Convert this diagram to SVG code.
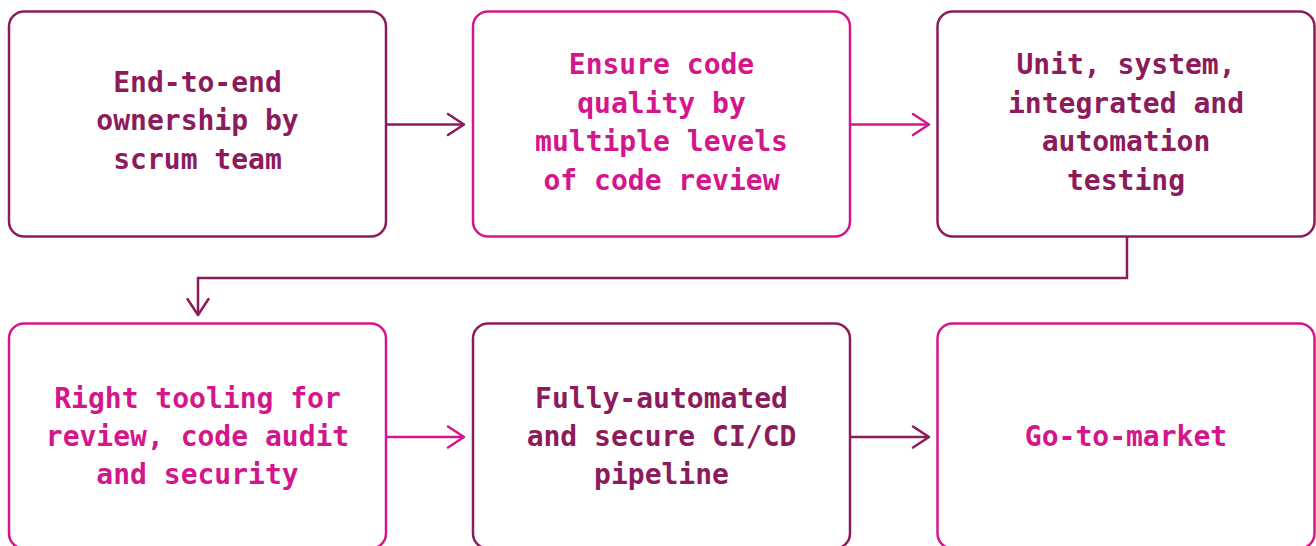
<svg xmlns="http://www.w3.org/2000/svg" width="1316" height="546" viewBox="0 0 1316 546">
  <defs>
    <style>
      .box { fill: #ffffff; stroke-width: 2.5; }
      .dark { stroke: #8c1b5c; }
      .bright { stroke: #d4168c; }
      text { font-family: "DejaVu Sans Mono", "Liberation Mono", monospace; font-weight: bold; font-size: 28px; text-anchor: middle; }
      .tdark { fill: #8c1b5c; }
      .tbright { fill: #d4168c; }
      .link { fill: none; stroke-width: 2.5; }
    </style>
    <marker id="head-dark" markerUnits="userSpaceOnUse" markerWidth="22" markerHeight="26" refX="18" refY="12" orient="auto" overflow="visible">
      <path d="M2 1.5 L18 12 L2 22.5" fill="none" stroke="#8c1b5c" stroke-width="2.5" stroke-linecap="round" stroke-linejoin="round"/>
    </marker>
    <marker id="head-bright" markerUnits="userSpaceOnUse" markerWidth="22" markerHeight="26" refX="18" refY="12" orient="auto" overflow="visible">
      <path d="M2 1.5 L18 12 L2 22.5" fill="none" stroke="#d4168c" stroke-width="2.5" stroke-linecap="round" stroke-linejoin="round"/>
    </marker>
  </defs>

  <!-- connectors -->
  <g id="connectors">
    <path class="link dark" d="M387 124.5 H464" marker-end="url(#head-dark)"/>
    <path class="link bright" d="M851 124.5 H929" marker-end="url(#head-bright)"/>
    <path class="link dark" d="M1127 237 V278 H198 V315" marker-end="url(#head-dark)"/>
    <path class="link bright" d="M387 437 H464" marker-end="url(#head-bright)"/>
    <path class="link dark" d="M851 437 H929" marker-end="url(#head-dark)"/>
  </g>

  <!-- top row -->
  <g id="node-ownership">
    <rect class="box dark" x="9" y="11.5" width="377" height="225" rx="15"/>
    <text class="tdark" x="197.5" y="91.5">End-to-end</text>
    <text class="tdark" x="197.5" y="130">ownership by</text>
    <text class="tdark" x="197.5" y="168.5">scrum team</text>
  </g>

  <g id="node-code-quality">
    <rect class="box bright" x="473" y="11.5" width="377" height="225" rx="15"/>
    <text class="tbright" x="661.5" y="74">Ensure code</text>
    <text class="tbright" x="661.5" y="112.5">quality by</text>
    <text class="tbright" x="661.5" y="151">multiple levels</text>
    <text class="tbright" x="661.5" y="189.5">of code review</text>
  </g>

  <g id="node-testing">
    <rect class="box dark" x="937.5" y="11.5" width="377" height="225" rx="15"/>
    <text class="tdark" x="1126" y="74">Unit, system,</text>
    <text class="tdark" x="1126" y="112.5">integrated and</text>
    <text class="tdark" x="1126" y="151">automation</text>
    <text class="tdark" x="1126" y="189.5">testing</text>
  </g>

  <!-- bottom row -->
  <g id="node-tooling">
    <rect class="box bright" x="9" y="323.5" width="377" height="225" rx="15"/>
    <text class="tbright" x="197.5" y="407.5">Right tooling for</text>
    <text class="tbright" x="197.5" y="446">review, code audit</text>
    <text class="tbright" x="197.5" y="484">and security</text>
  </g>

  <g id="node-pipeline">
    <rect class="box dark" x="473" y="323.5" width="377" height="225" rx="15"/>
    <text class="tdark" x="661.5" y="407.5">Fully-automated</text>
    <text class="tdark" x="661.5" y="446">and secure CI/CD</text>
    <text class="tdark" x="661.5" y="484">pipeline</text>
  </g>

  <g id="node-market">
    <rect class="box bright" x="937.5" y="323.5" width="377" height="225" rx="15"/>
    <text class="tbright" x="1126" y="446">Go-to-market</text>
  </g>
</svg>
